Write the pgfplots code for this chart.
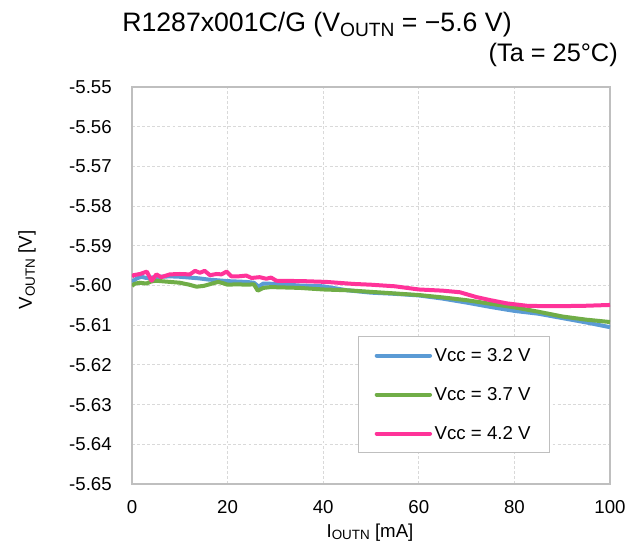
\documentclass[border=0pt]{standalone}
\usepackage{fontspec}
\setmainfont{Liberation Sans}
\usepackage{graphicx}
\usepackage{pgfplots}
\pgfplotsset{compat=1.18}
\definecolor{cblue}{HTML}{5B9BD5}
\definecolor{cgreen}{HTML}{70AD47}
\definecolor{cpink}{HTML}{FF3399}
\definecolor{gridc}{HTML}{D9D9D9}
\definecolor{axc}{HTML}{BFBFBF}
\newcommand\sub[1]{\raisebox{-0.3ex}{\scalebox{0.72}{#1}}}
\begin{document}
\begin{tikzpicture}[x=0.75pt,y=0.75pt]
\path[use as bounding box] (-132,-63) rectangle (506,484);
\begin{axis}[
  at={(0,0)}, anchor=south west,
  scale only axis, width=358.5pt, height=297.75pt,
  xmin=0, xmax=100, ymin=-5.65, ymax=-5.55,
  xtick={0,20,40,60,80,100},
  xticklabels={0,20,40,60,80,100},
  ytick={-5.65,-5.64,-5.63,-5.62,-5.61,-5.60,-5.59,-5.58,-5.57,-5.56,-5.55},
  yticklabels={-5.65,-5.64,-5.63,-5.62,-5.61,-5.60,-5.59,-5.58,-5.57,-5.56,-5.55},
  major tick length=0pt,
  ticklabel style={font=\fontsize{14}{16}\selectfont, inner sep=0pt},
  yticklabel style={anchor=east, xshift=-15pt},
  xticklabel style={anchor=north, yshift=-12pt},
  grid=major,
  major grid style={gridc, dash pattern=on 2.2pt off 1.6pt, line width=0.75pt},
  axis line style={axc, line width=1.4pt},
  legend style={at={(0.473,0.078)}, anchor=south west, draw=axc, line width=0.9pt,
    font=\fontsize{14}{16}\selectfont, inner xsep=12pt, inner ysep=6.5pt,
    row sep=14pt},
  legend cell align=left,
  legend image code/.code={\draw[#1, line width=3pt, line cap=round] (0pt,0pt) -- (40pt,0pt);},
]
\addplot[cblue, line width=3pt, line join=round] coordinates {
(0,-5.5991) (1,-5.5982) (2,-5.5978) (3,-5.5981) (4,-5.5980) (6,-5.5978) (8,-5.5977)
(10,-5.5978) (12,-5.5980) (14,-5.5982) (16,-5.5985) (18,-5.5987) (20,-5.5989)
(22,-5.5990) (24,-5.5991) (25.5,-5.5993) (26.5,-5.6003) (27.5,-5.5995) (30,-5.5996)
(35,-5.6000) (40,-5.6002) (45,-5.6012) (50,-5.6018) (55,-5.6021) (60,-5.6025)
(65,-5.6033) (70,-5.6043) (75,-5.6054) (80,-5.6064) (85,-5.6071) (90,-5.6082)
(95,-5.6093) (100,-5.6105)};
\addlegendentry{Vcc = 3.2 V}
\addplot[cgreen, line width=3pt, line join=round] coordinates {
(0,-5.6001) (0.5,-5.5996) (1.5,-5.5993) (3,-5.5995) (4,-5.5990) (5,-5.5988) (6,-5.5989)
(8,-5.5991) (10,-5.5993) (12,-5.5998) (13.5,-5.6003) (15,-5.6001) (16.5,-5.5996)
(18,-5.5991) (19,-5.5994) (20,-5.5998) (22,-5.5997) (24,-5.5998) (25.5,-5.5997)
(26.3,-5.6013) (27.5,-5.6006) (29,-5.6004) (35,-5.6006) (40,-5.6010) (45,-5.6012)
(50,-5.6016) (55,-5.6020) (60,-5.6024) (65,-5.6030) (70,-5.6037) (75,-5.6046)
(80,-5.6055) (85,-5.6066) (90,-5.6078) (95,-5.6086) (100,-5.6092)};
\addlegendentry{Vcc = 3.7 V}
\addplot[cpink, line width=3pt, line join=round] coordinates {
(0,-5.5978) (0.3,-5.5974) (1.7,-5.5971) (3.1,-5.5965) (4.1,-5.5988) (5.1,-5.5972)
(6.1,-5.5979) (7.9,-5.5972) (10,-5.5971) (12.1,-5.5972) (13.2,-5.5963) (14.2,-5.5968)
(15.2,-5.5963) (16.3,-5.5974) (17.7,-5.5971) (18.7,-5.5972) (19.8,-5.5965)
(20.8,-5.5977) (22.2,-5.5977) (23.9,-5.5975) (25,-5.5981) (26.7,-5.5979)
(28.1,-5.5983) (29.1,-5.5980) (30.2,-5.5988) (35.8,-5.5989) (40.7,-5.5991)
(46.3,-5.5996) (50,-5.5998) (55,-5.6002) (60,-5.6010) (65,-5.6013) (68.6,-5.6017)
(72,-5.6029) (75,-5.6037) (78.4,-5.6045) (82.6,-5.6051) (86,-5.6052) (90,-5.6052)
(95,-5.6051) (100,-5.6049)};
\addlegendentry{Vcc = 4.2 V}
\end{axis}
\node[font=\fontsize{20}{24}\selectfont, anchor=base west, inner sep=0pt] at (-10,452) {R1287x001C/G (V\sub{OUTN} = −5.6 V)};
\node[font=\fontsize{19}{23}\selectfont, anchor=base east, inner sep=0pt] at (486,422) {(Ta = 25°C)};
\node[font=\fontsize{14}{16}\selectfont, rotate=90, anchor=base, inner sep=0pt] at (-100,214) {V\sub{OUTN} [V]};
\node[font=\fontsize{14}{16}\selectfont, anchor=base, inner sep=0pt] at (238,-53) {I\sub{OUTN} [mA]};
\end{tikzpicture}
\end{document}
